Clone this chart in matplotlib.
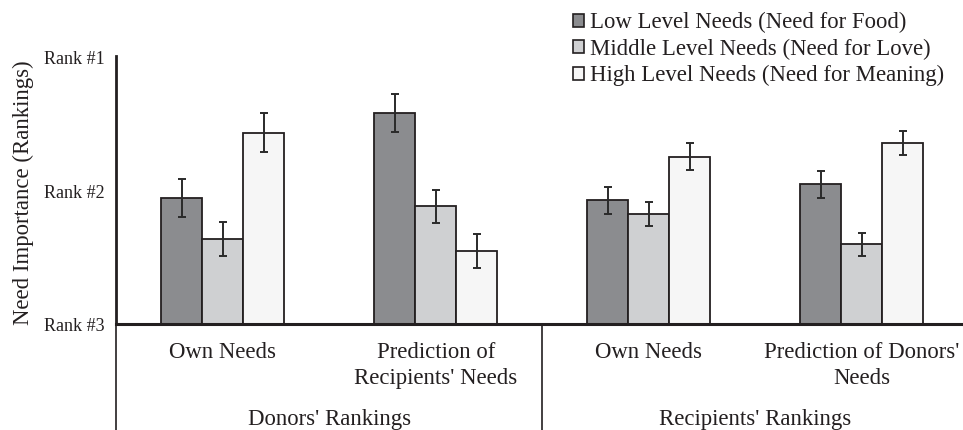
import numpy as np
import matplotlib
matplotlib.use("Agg")
import matplotlib.pyplot as plt
from matplotlib.lines import Line2D
from matplotlib.patches import Patch
import matplotlib.transforms as mtransforms

# ---- data (mean rank, 1 = most important) ----
categories = ["Own Needs", "Prediction of\nRecipients' Needs",
              "Own Needs", "Prediction of Donors'\nNeeds"]
groups = ["Donors' Rankings", "Recipients' Rankings"]
series_names = ["Low Level Needs (Need for Food)",
                "Middle Level Needs (Need for Love)",
                "High Level Needs (Need for Meaning)"]
low_rank = [2.05, 1.41, 2.07, 1.95]
mid_rank = [2.36, 2.115, 2.17, 2.40]
high_rank = [1.56, 2.45, 1.74, 1.64]
low_err = [0.143, 0.143, 0.10, 0.10]
mid_err = [0.13, 0.123, 0.09, 0.087]
high_err = [0.145, 0.128, 0.10, 0.089]
ytick_vals = [3, 2, 1]
ytick_labels = ["Rank #3", "Rank #2", "Rank #1"]

colors = ["#8b8c8f", "#cfd0d2", "#f6f6f6"]
edge = "#231f20"
txt = "#231f20"

plt.rcParams['font.family'] = ['Liberation Serif', 'DejaVu Serif']

W, H = 963, 430
fig = plt.figure(figsize=(W / 100, H / 100), dpi=100)
ax_left, ax_right = 116.2, 968.5
ax_bottom_px, ax_top_px = 324.3, 55.7
ax = fig.add_axes([ax_left / W, (H - ax_bottom_px) / H,
                   (ax_right - ax_left) / W, (ax_bottom_px - ax_top_px) / H])

x = np.arange(len(categories))
bw = 0.1925
all_ranks = [low_rank, mid_rank, high_rank]
all_errs = [low_err, mid_err, high_err]
for i, (r, e) in enumerate(zip(all_ranks, all_errs)):
    xs = x + (i - 1) * bw
    r = np.array(r)
    ax.bar(xs, r - 3, bottom=3, width=bw, color=colors[i], edgecolor=edge,
           linewidth=1.3, zorder=2)
    ax.errorbar(xs, r, yerr=e, fmt='none', ecolor='#2a2a2a', elinewidth=1.4,
                capsize=3.0, capthick=1.4, zorder=3)

ax.set_xlim(-0.5, len(categories) - 0.5)
ax.set_ylim(3, 0.983)
ax.set_yticks(ytick_vals)
ax.set_yticklabels(ytick_labels, fontsize=13, color=txt)
ax.tick_params(axis='y', length=0, pad=8.5)
ax.set_xticks(x)
ax.set_xticklabels(categories, fontsize=16.4, color=txt, linespacing=1.3)
ax.tick_params(axis='x', length=0, pad=13)
for s in ['top', 'right']:
    ax.spines[s].set_visible(False)
ax.spines['left'].set_linewidth(2.0)
ax.spines['bottom'].set_linewidth(2.2)
ax.spines['left'].set_color(edge)
ax.spines['bottom'].set_color(edge)
ax.patch.set_alpha(0)

# separators below axis
trans = mtransforms.blended_transform_factory(ax.transData, fig.transFigure)
base_frac = (H - ax_bottom_px) / H
for xv in [-0.5, 1.5, 3.5]:
    fig.add_artist(Line2D([xv, xv], [0, base_frac], transform=trans,
                          color=edge, linewidth=1.2))

# group labels
for gi, g in enumerate(groups):
    fig.text(2 * gi + 0.5, (H - 420) / H, g, transform=trans, ha='center',
             va='center', fontsize=16.4, color=txt)

fig.text(23 / W, (H - 192.5) / H, "Need Importance (Rankings)", rotation=90,
         ha='center', va='center', fontsize=16.4, color=txt)

handles = [Patch(facecolor=colors[i], edgecolor=edge, linewidth=1.2)
           for i in range(3)]
fig.legend(handles, series_names, loc='upper left',
           bbox_to_anchor=(572.5 / W, (H - 12) / H), frameon=False,
           fontsize=16.4, handlelength=0.5, handleheight=0.5,
           handletextpad=0.28, labelspacing=0.24, borderpad=0,
           borderaxespad=0, labelcolor=txt)

fig.savefig("out.png", dpi=100)
